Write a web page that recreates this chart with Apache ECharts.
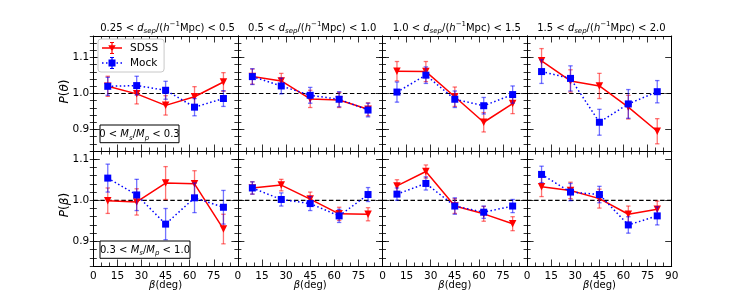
<!DOCTYPE html>
<html>
<head>
<meta charset="utf-8">
<script src="https://cdn.jsdelivr.net/npm/echarts@6/dist/echarts.min.js"></script>
<style>html,body{margin:0;padding:0;background:#fff;}#c{width:747px;height:299px;}</style>
</head>
<body>
<div id="c"></div>
<script>
// ---- data ----
const betaBins = [9, 27, 45, 63, 81];
const xTicks = [0, 15, 30, 45, 60, 75, 90];
const sepRanges = [["0.25", "0.5"], ["0.5", "1.0"], ["1.0", "1.5"], ["1.5", "2.0"]];
const massRanges = [["0", "0.3"], ["0.3", "1.0"]];

const sdssTheta = [
  [1.020, 0.999, 0.967, 0.991, 1.032],
  [1.047, 1.035, 0.985, 0.982, 0.956],
  [1.062, 1.061, 0.991, 0.920, 0.972],
  [1.091, 1.035, 1.021, 0.962, 0.895]
];
const sdssThetaErr = [
  [0.028, 0.028, 0.027, 0.028, 0.026],
  [0.021, 0.021, 0.024, 0.021, 0.018],
  [0.027, 0.028, 0.027, 0.027, 0.028],
  [0.034, 0.031, 0.035, 0.033, 0.035]
];
const mockTheta = [
  [1.020, 1.022, 1.009, 0.962, 0.986],
  [1.047, 1.021, 0.995, 0.984, 0.954],
  [1.004, 1.051, 0.984, 0.966, 0.997],
  [1.061, 1.042, 0.920, 0.971, 1.005]
];
const mockThetaErr = [
  [0.025, 0.026, 0.025, 0.024, 0.022],
  [0.022, 0.022, 0.022, 0.021, 0.019],
  [0.028, 0.023, 0.023, 0.023, 0.024],
  [0.033, 0.035, 0.036, 0.040, 0.031]
];
const sdssBeta = [
  [0.999, 0.996, 1.042, 1.040, 0.930],
  [1.030, 1.037, 1.003, 0.967, 0.966],
  [1.035, 1.070, 0.986, 0.967, 0.943],
  [1.033, 1.024, 1.004, 0.966, 0.978]
];
const sdssBetaErr = [
  [0.031, 0.032, 0.040, 0.032, 0.036],
  [0.015, 0.014, 0.017, 0.016, 0.016],
  [0.015, 0.016, 0.018, 0.018, 0.017],
  [0.024, 0.020, 0.023, 0.020, 0.020]
];
const mockBeta = [
  [1.054, 1.013, 0.942, 1.006, 0.983],
  [1.030, 1.002, 0.992, 0.962, 1.014],
  [1.015, 1.041, 0.986, 0.971, 0.986],
  [1.063, 1.020, 1.014, 0.940, 0.962]
];
const mockBetaErr = [
  [0.034, 0.038, 0.038, 0.036, 0.041],
  [0.015, 0.016, 0.017, 0.016, 0.017],
  [0.015, 0.016, 0.020, 0.015, 0.016],
  [0.020, 0.021, 0.020, 0.020, 0.022]
];
const yRanges = [[0.84, 1.16], [0.84, 1.12]];

// ---- layout ----
const FONT = 'DejaVu Sans';
const FS = 10;
const L0 = 93.3, PW = 144.6, PH = 115;
const TOPS = [36, 151];
const RED = '#ff0000', BLUE = '#0000ff';

const grids = [], xAxes = [], yAxes = [], series = [], graphics = [];
const tickStyle = {color: '#000', width: 0.8};

function errRender(color) {
  return function (params, api) {
    const x = api.value(0), y = api.value(1), e = api.value(2);
    const t = api.coord([x, y + e]);
    const b = api.coord([x, y - e]);
    const cw = 2.2;
    const st = {stroke: color, lineWidth: 1.3, fill: null};
    return {
      type: 'group',
      children: [
        {type: 'line', shape: {x1: t[0], y1: t[1], x2: b[0], y2: b[1]}, style: st},
        {type: 'line', shape: {x1: t[0] - cw, y1: t[1], x2: t[0] + cw, y2: t[1]}, style: st},
        {type: 'line', shape: {x1: b[0] - cw, y1: b[1], x2: b[0] + cw, y2: b[1]}, style: st}
      ]
    };
  };
}

const richBase = {
  n: {fontFamily: FONT, fontSize: FS, color: '#000', lineHeight: 14},
  i: {fontFamily: FONT, fontSize: FS, color: '#000', fontStyle: 'italic', lineHeight: 14},
  sub: {fontFamily: FONT, fontSize: 7, color: '#000', fontStyle: 'italic', lineHeight: 6, verticalAlign: 'bottom'},
  sup: {fontFamily: FONT, fontSize: 7, color: '#000', lineHeight: 6, verticalAlign: 'top'},
  bn: {fontFamily: FONT, fontSize: 12, color: '#000', lineHeight: 16},
  bi: {fontFamily: FONT, fontSize: 12, color: '#000', fontStyle: 'italic', lineHeight: 16}
};

for (let r = 0; r < 2; r++) {
  for (let c = 0; c < 4; c++) {
    const g = grids.length;
    const left = L0 + PW * c;
    grids.push({left: left, top: TOPS[r], width: PW, height: PH, containLabel: false});
    const [ymin, ymax] = yRanges[r];
    const xBase = {
      gridIndex: g, type: 'value', min: 0, max: 90, interval: 15,
      axisLine: {show: true, onZero: false, lineStyle: {color: '#000', width: 1}},
      axisTick: {show: true, inside: true, length: 6.5, lineStyle: tickStyle},
      minorTick: {show: true, splitNumber: 3, length: 3.5, lineStyle: tickStyle},
      splitLine: {show: false}, minorSplitLine: {show: false}
    };
    xAxes.push(Object.assign({}, xBase, {
      position: 'bottom',
      axisLabel: {
        show: r === 1, margin: 5, fontSize: FS + 0.5, fontFamily: FONT, color: '#000',
        showMinLabel: true, showMaxLabel: true,
        formatter: function (v) { return (c < 3 && v === 90) ? '' : String(v); }
      }
    }));
    xAxes.push(Object.assign({}, xBase, {position: 'top', axisLabel: {show: false}}));
    const xi = xAxes.length - 2;
    const yi = yAxes.length;
    ['left', 'right'].forEach(function (pos) {
      yAxes.push({
        gridIndex: g, type: 'value', min: ymin, max: ymax, splitNumber: 3,
        minInterval: 0.1, maxInterval: 0.1, position: pos,
        axisLine: {show: true, onZero: false, lineStyle: {color: '#000', width: 1}},
        axisTick: {show: true, inside: true, length: 6.5, lineStyle: tickStyle},
        splitLine: {show: false},
        axisLabel: {
          show: pos === 'left' && c === 0, margin: 4, fontSize: FS + 0.5, fontFamily: FONT, color: '#000',
          formatter: function (v) {
            const k = Math.round(v * 10);
            return Math.abs(v * 10 - k) < 1e-6 ? (k / 10).toFixed(1) : '';
          }
        }
      });
      yAxes.push({
        gridIndex: g, type: 'value', min: ymin, max: ymax, interval: 0.02, position: pos,
        axisLine: {show: false},
        axisTick: {show: true, inside: true, length: 3.5, lineStyle: tickStyle},
        splitLine: {show: false}, axisLabel: {show: false}
      });
    });

    const sd = r === 0 ? sdssTheta[c] : sdssBeta[c];
    const sdE = r === 0 ? sdssThetaErr[c] : sdssBetaErr[c];
    const mk = r === 0 ? mockTheta[c] : mockBeta[c];
    const mkE = r === 0 ? mockThetaErr[c] : mockBetaErr[c];

    series.push({
      type: 'line', name: 'ref', xAxisIndex: xi, yAxisIndex: yi, silent: true,
      data: [[0, 1], [90, 1]], symbol: 'none', z: 1,
      lineStyle: {color: '#000', width: 1.2, type: [4.5, 2.5]}
    });
    series.push({
      type: 'custom', name: 'SDSS err', xAxisIndex: xi, yAxisIndex: yi, z: 2, silent: true,
      renderItem: errRender('rgba(255,0,0,0.55)'),
      data: betaBins.map(function (b, k) { return [b, sd[k], sdE[k]]; })
    });
    series.push({
      type: 'line', name: 'SDSS', xAxisIndex: xi, yAxisIndex: yi, z: 3,
      data: betaBins.map(function (b, k) { return [b, sd[k]]; }),
      symbol: 'triangle', symbolRotate: 180, symbolSize: 7.5,
      itemStyle: {color: RED}, lineStyle: {color: RED, width: 1.5}
    });
    series.push({
      type: 'custom', name: 'Mock err', xAxisIndex: xi, yAxisIndex: yi, z: 4, silent: true,
      renderItem: errRender('rgba(0,0,255,0.55)'),
      data: betaBins.map(function (b, k) { return [b, mk[k], mkE[k]]; })
    });
    series.push({
      type: 'line', name: 'Mock', xAxisIndex: xi, yAxisIndex: yi, z: 5,
      data: betaBins.map(function (b, k) { return [b, mk[k]]; }),
      symbol: 'rect', symbolSize: 7,
      itemStyle: {color: BLUE}, lineStyle: {color: BLUE, width: 1.5, type: [1.5, 2.5]}
    });

    if (r === 0) {
      const sr = sepRanges[c];
      graphics.push({
        type: 'text', x: left + PW / 2 + 2, y: 28, silent: true,
        style: {
          text: '{n|' + sr[0] + ' < }{i|d}{sub|sep}{n|/(}{i|h}{sup|−1}{n|Mpc) < ' + sr[1] + '}',
          rich: richBase, align: 'center', verticalAlign: 'middle'
        }
      });
    } else {
      graphics.push({
        type: 'text', x: left + PW / 2, y: 285, silent: true,
        style: {
          text: '{i|β}{n|(deg)}', rich: richBase, align: 'center', verticalAlign: 'middle'
        }
      });
    }
  }
}

graphics.push({
  type: 'text', x: 65, y: 91.5, rotation: Math.PI / 2, silent: true,
  style: {text: '{bi|P}{bn|(}{bi|θ}{bn|)}', rich: richBase, align: 'center', verticalAlign: 'middle'}
});
graphics.push({
  type: 'text', x: 65, y: 205, rotation: Math.PI / 2, silent: true,
  style: {text: '{bi|P}{bn|(}{bi|β}{bn|)}', rich: richBase, align: 'center', verticalAlign: 'middle'}
});
[[100, 125, 79, 17.7], [100, 241, 90, 17.3]].forEach(function (bx, r) {
  graphics.push({
    type: 'rect', silent: true, z: 10,
    shape: {x: bx[0], y: bx[1], width: bx[2], height: bx[3]},
    style: {fill: '#fff', stroke: '#000', lineWidth: 1}
  });
  graphics.push({
    type: 'text', x: bx[0] + bx[2] / 2, y: bx[1] + bx[3] / 2 + 0.5, silent: true, z: 11,
    style: {
      text: '{n|' + massRanges[r][0] + ' < }{i|M}{sub|s}{n|/}{i|M}{sub|p}{n| < ' + massRanges[r][1] + '}',
      rich: richBase, align: 'center', verticalAlign: 'middle'
    }
  });
});

// legend icons: line + error bar + marker, in a 20x12 box
const sdssIcon = 'path://M0,5.25L20,5.25L20,6.75L0,6.75Z' +
  'M9.4,0L10.6,0L10.6,12L9.4,12Z M8,0L12,0L12,1L8,1Z M8,11L12,11L12,12L8,12Z' +
  'M6.3,3.2L13.7,3.2L10,9.6Z';
const mockIcon = 'path://M0,5.25L1.5,5.25L1.5,6.75L0,6.75Z M4,5.25L5.5,5.25L5.5,6.75L4,6.75Z' +
  'M14.5,5.25L16,5.25L16,6.75L14.5,6.75Z M18.5,5.25L20,5.25L20,6.75L18.5,6.75Z' +
  'M9.4,0L10.6,0L10.6,12L9.4,12Z M8,0L12,0L12,1L8,1Z M8,11L12,11L12,12L8,12Z' +
  'M6.5,2.5L13.5,2.5L13.5,9.5L6.5,9.5Z';

const chart = echarts.init(document.getElementById('c'), null, {renderer: 'canvas'});
chart.setOption({
  animation: false,
  backgroundColor: '#fff',
  grid: grids,
  xAxis: xAxes,
  yAxis: yAxes,
  legend: {
    data: [{name: 'SDSS', icon: sdssIcon, itemStyle: {color: RED}},
           {name: 'Mock', icon: mockIcon, itemStyle: {color: BLUE}}],
    orient: 'vertical', left: 98, top: 39,
    itemWidth: 20, itemHeight: 12, itemGap: 3, padding: [3, 6, 3, 4],
    borderColor: '#c8c8c8', borderWidth: 1, borderRadius: 3, backgroundColor: '#fff',
    textStyle: {fontFamily: FONT, fontSize: FS + 0.5, color: '#000', padding: [0, 0, 0, 3]},
    selectedMode: false
  },
  series: series,
  graphic: graphics
});
</script>
</body>
</html>
